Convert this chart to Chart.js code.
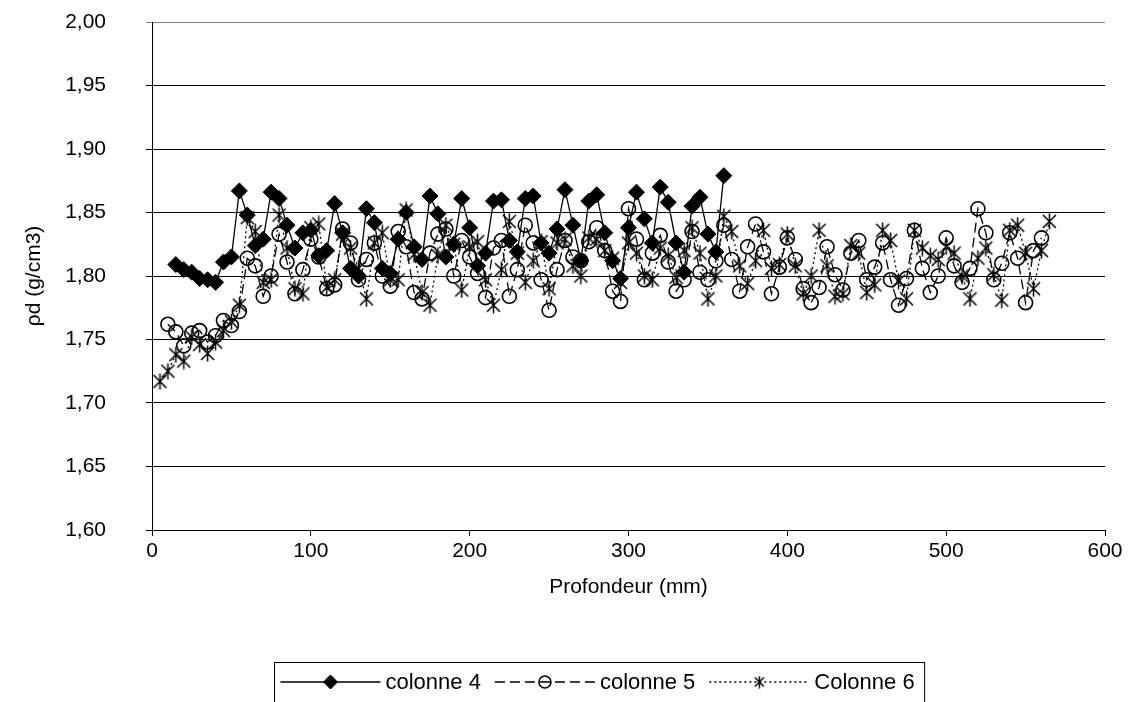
<!DOCTYPE html>
<html>
<head>
<meta charset="utf-8">
<script src="https://cdn.jsdelivr.net/npm/chart.js@4.4.1/dist/chart.umd.min.js"></script>
<style>
  html, body { margin: 0; padding: 0; background: #fff; }
  #wrap { width: 1134px; height: 702px; }
</style>
</head>
<body>
<div id="wrap"><canvas id="chart" width="1134" height="702"></canvas></div>
<script>
// --- Data ---
const depth4 = [15,20,25,30,35,40,45,50,55,60,65,70,75,80,85,90,95,100,105,110,115,120,125,130,135,140,145,150,155,160,165,170,175,180,185,190,195,200,205,210,215,220,225,230,235,240,245,250,255,260,265,270,275,280,285,290,295,300,305,310,315,320,325,330,335,340,345,350,355,360];
const colonne4 = [1.809,1.805,1.803,1.798,1.797,1.795,1.811,1.815,1.867,1.848,1.824,1.829,1.866,1.861,1.840,1.822,1.834,1.836,1.816,1.820,1.857,1.834,1.806,1.800,1.853,1.842,1.806,1.802,1.829,1.850,1.823,1.813,1.863,1.849,1.815,1.825,1.861,1.838,1.808,1.818,1.859,1.860,1.828,1.819,1.861,1.863,1.826,1.818,1.837,1.868,1.840,1.812,1.859,1.864,1.834,1.812,1.798,1.838,1.866,1.845,1.826,1.870,1.858,1.826,1.803,1.855,1.862,1.833,1.819,1.879];

const depth5 = [10,15,20,25,30,35,40,45,50,55,60,65,70,75,80,85,90,95,100,105,110,115,120,125,130,135,140,145,150,155,160,165,170,175,180,185,190,195,200,205,210,215,220,225,230,235,240,245,250,255,260,265,270,275,280,285,290,295,300,305,310,315,320,325,330,335,340,345,350,355,360,365,370,375,380,385,390,395,400,405,410,415,420,425,430,435,440,445,450,455,460,465,470,475,480,485,490,495,500,505,510,515,520,525,530,535,540,545,550,555,560];
const colonne5 = [1.762,1.756,1.745,1.755,1.757,1.748,1.753,1.765,1.761,1.772,1.814,1.808,1.784,1.800,1.833,1.811,1.786,1.805,1.829,1.815,1.790,1.793,1.837,1.826,1.797,1.813,1.826,1.800,1.792,1.835,1.823,1.787,1.782,1.818,1.833,1.837,1.800,1.828,1.815,1.802,1.783,1.822,1.828,1.784,1.805,1.840,1.826,1.797,1.773,1.805,1.828,1.815,1.812,1.827,1.838,1.820,1.788,1.780,1.853,1.829,1.797,1.818,1.832,1.811,1.788,1.797,1.835,1.803,1.797,1.812,1.840,1.813,1.788,1.823,1.841,1.819,1.786,1.807,1.830,1.813,1.790,1.779,1.791,1.823,1.801,1.789,1.818,1.828,1.797,1.807,1.826,1.797,1.777,1.798,1.836,1.806,1.787,1.800,1.830,1.808,1.795,1.806,1.853,1.834,1.797,1.810,1.834,1.814,1.779,1.820,1.830];

const depth6 = [5,10,15,20,25,30,35,40,45,50,55,60,65,70,75,80,85,90,95,100,105,110,115,120,125,130,135,140,145,150,155,160,165,170,175,180,185,190,195,200,205,210,215,220,225,230,235,240,245,250,255,260,265,270,275,280,285,290,295,300,305,310,315,320,325,330,335,340,345,350,355,360,365,370,375,380,385,390,395,400,405,410,415,420,425,430,435,440,445,450,455,460,465,470,475,480,485,490,495,500,505,510,515,520,525,530,535,540,545,550,555,560,565];
const colonne6 = [1.717,1.725,1.738,1.733,1.752,1.746,1.739,1.748,1.757,1.764,1.777,1.846,1.835,1.795,1.797,1.848,1.822,1.790,1.786,1.838,1.841,1.791,1.797,1.833,1.822,1.806,1.782,1.826,1.834,1.797,1.797,1.852,1.817,1.787,1.777,1.816,1.840,1.825,1.789,1.823,1.827,1.797,1.777,1.805,1.843,1.818,1.795,1.812,1.827,1.790,1.826,1.829,1.808,1.800,1.830,1.829,1.820,1.814,1.795,1.826,1.818,1.800,1.797,1.822,1.816,1.799,1.820,1.838,1.818,1.782,1.800,1.847,1.835,1.808,1.794,1.812,1.836,1.806,1.809,1.833,1.808,1.786,1.800,1.836,1.808,1.784,1.786,1.824,1.818,1.787,1.793,1.836,1.828,1.796,1.782,1.836,1.822,1.816,1.813,1.823,1.818,1.800,1.782,1.814,1.822,1.801,1.781,1.836,1.840,1.818,1.790,1.820,1.843];

const seriesLabels = ['colonne 4', 'colonne 5', 'Colonne 6'];
const yMin = 1.60, yMax = 2.00, yStep = 0.05;
const xMin = 0, xMax = 600, xStep = 100;

// --- Star marker (X with a vertical bar, like the spreadsheet one) ---
function makeStar(size) {
    const c = document.createElement('canvas');
    c.width = size;
    c.height = size;
    const s = c.getContext('2d');
    const m = size / 2, e = size - 2;
    s.strokeStyle = '#000';
    s.lineWidth = 1.5;
    s.beginPath();
    s.moveTo(2, 2); s.lineTo(e, e);
    s.moveTo(e, 2); s.lineTo(2, e);
    s.moveTo(m, 0.5); s.lineTo(m, size - 0.5);
    s.stroke();
    return c;
}
const starMarker = makeStar(17);
const starSmall = makeStar(13);

const toPoints = (xs, ys) => xs.map((x, i) => ({ x: x, y: ys[i] }));
const FONT = 'Liberation Sans, Arial, sans-serif';

// --- Legend drawn in a box under the chart ---
const boxLegend = {
    id: 'boxLegend',
    afterDraw(chart) {
        const ctx = chart.ctx;
        const sampleLen = 100;
        const gapText = 5;
        const gapItem = 14;
        const cy = 682;
        ctx.save();
        ctx.font = '22px ' + FONT;
        const items = chart.data.datasets.map(ds => ({ ds: ds, w: ctx.measureText(ds.label).width }));
        const total = items.reduce((a, it) => a + sampleLen + gapText + it.w, 0) + gapItem * (items.length - 1);
        const boxW = total + 16;
        const boxL = Math.round(599 - boxW / 2) + 0.5;
        ctx.strokeStyle = '#000';
        ctx.lineWidth = 1;
        ctx.strokeRect(boxL, 662.5, boxW, 44);
        let x = boxL + 6;
        items.forEach(it => {
            const ds = it.ds;
            ctx.beginPath();
            ctx.setLineDash(ds.borderDash || []);
            ctx.lineWidth = ds.borderWidth;
            ctx.strokeStyle = '#000';
            ctx.moveTo(x, cy);
            ctx.lineTo(x + sampleLen, cy);
            ctx.stroke();
            ctx.setLineDash([]);
            ctx.fillStyle = ds.pointBackgroundColor;
            ctx.strokeStyle = '#000';
            ctx.lineWidth = ds.pointBorderWidth;
            Chart.helpers.drawPoint(ctx, {
                pointStyle: ds.pointStyle === starMarker ? starSmall : ds.pointStyle,
                radius: ds.pointStyle === 'rectRot' ? 7 : 6,
                rotation: 0,
                borderWidth: ds.pointBorderWidth
            }, x + sampleLen / 2, cy);
            x += sampleLen + gapText;
            ctx.fillStyle = '#000';
            ctx.textBaseline = 'middle';
            ctx.textAlign = 'left';
            ctx.fillText(ds.label, x, cy + 1);
            x += it.w + gapItem;
        });
        ctx.restore();
    }
};

new Chart(document.getElementById('chart').getContext('2d'), {
    type: 'line',
    data: {
        datasets: [
            {
                label: seriesLabels[0],
                data: toPoints(depth4, colonne4),
                borderColor: '#000',
                borderWidth: 1.3,
                pointStyle: 'rectRot',
                pointRadius: 8,
                pointBackgroundColor: '#000',
                pointBorderColor: '#000',
                pointBorderWidth: 1
            },
            {
                label: seriesLabels[1],
                data: toPoints(depth5, colonne5),
                borderColor: '#000',
                borderWidth: 1.3,
                borderDash: [10, 5],
                pointStyle: 'circle',
                pointRadius: 7,
                pointBackgroundColor: 'rgba(0,0,0,0)',
                pointBorderColor: '#000',
                pointBorderWidth: 1.6
            },
            {
                label: seriesLabels[2],
                data: toPoints(depth6, colonne6),
                borderColor: '#000',
                borderWidth: 1.3,
                borderDash: [2, 3],
                pointStyle: starMarker,
                pointRadius: 8,
                pointBackgroundColor: 'rgba(0,0,0,0)',
                pointBorderColor: '#000',
                pointBorderWidth: 1.5
            }
        ]
    },
    options: {
        responsive: false,
        animation: false,
        layout: { padding: { left: 0, top: 22, right: 29, bottom: 0 } },
        elements: { line: { tension: 0 } },
        plugins: {
            legend: { display: false },
            tooltip: { enabled: false }
        },
        scales: {
            x: {
                type: 'linear',
                min: xMin,
                max: xMax,
                ticks: {
                    stepSize: xStep,
                    color: '#000',
                    padding: 3,
                    maxRotation: 0,
                    font: { family: FONT, size: 21 }
                },
                grid: { drawOnChartArea: false, drawTicks: true, tickLength: 6, color: '#000' },
                border: { color: '#000', width: 1 },
                title: {
                    display: true,
                    text: 'Profondeur (mm)',
                    color: '#000',
                    font: { family: FONT, size: 21 },
                    padding: { top: 0, bottom: 102 }
                },
                afterFit(scale) {
                    scale.height = 172;
                    scale.paddingLeft = 0;
                    scale.paddingRight = 0;
                }
            },
            y: {
                min: yMin,
                max: yMax,
                ticks: {
                    stepSize: yStep,
                    color: '#000',
                    padding: 40,
                    font: { family: FONT, size: 21 },
                    callback: v => v.toFixed(2).replace('.', ',')
                },
                grid: {
                    color: c => (c.tick && c.tick.value > 1.999) ? '#808080' : '#000',
                    lineWidth: 1,
                    tickLength: 6
                },
                border: { color: '#000', width: 1 },
                title: {
                    display: true,
                    text: 'ρd (g/cm3)',
                    color: '#000',
                    font: { family: FONT, size: 21 },
                    padding: { top: 22, bottom: 0 }
                },
                afterFit(scale) {
                    scale.width = 152;
                    scale.paddingTop = 0;
                    scale.paddingBottom = 0;
                }
            }
        }
    },
    plugins: [boxLegend]
});
</script>
</body>
</html>
